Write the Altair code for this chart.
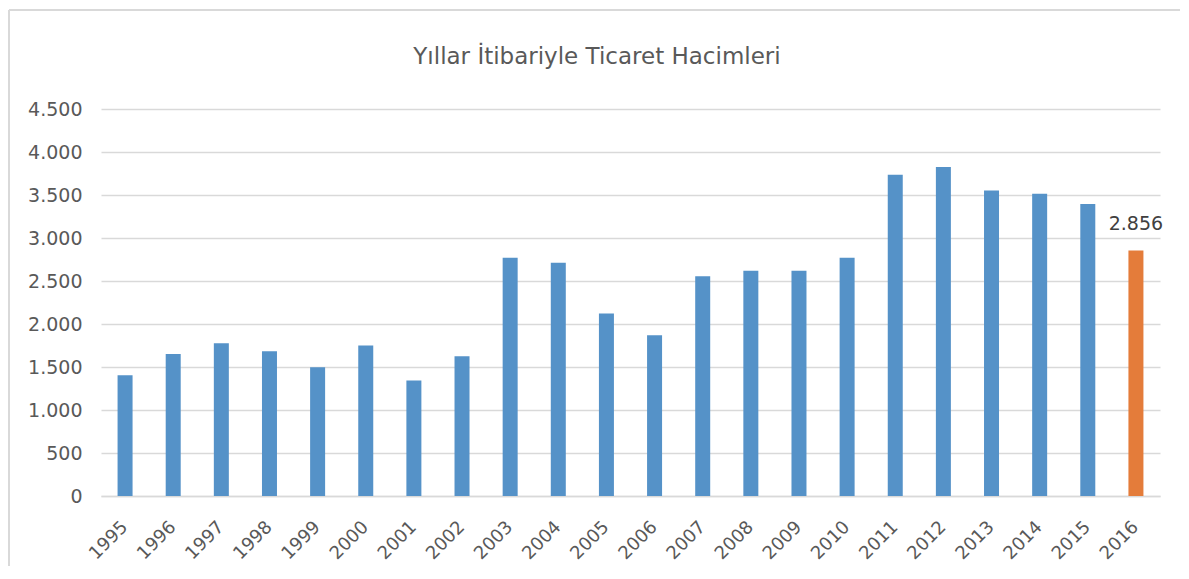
import altair as alt
import pandas as pd

years = [str(y) for y in range(1995, 2017)]
values = [1405, 1652, 1776, 1683, 1498, 1749, 1343, 1625, 2771, 2713,
          2121, 1869, 2554, 2620, 2620, 2771, 3735, 3827, 3553, 3514, 3394, 2856]
highlight = ["no"] * 21 + ["yes"]
label_years = ["2016"]
title_text = ["Yıllar İtibariyle Ticaret Hacimleri"]

df = pd.DataFrame({"year": years, "value": values, "hl": highlight})
FONT = "DejaVu Sans"

base = alt.Chart(df)

bars = base.mark_bar(size=15).encode(
    x=alt.X("year:O", sort=years, title=None,
            scale=alt.Scale(paddingInner=0, paddingOuter=0),
            axis=alt.Axis(labelAngle=-45, labelAlign="right", labelBaseline="middle",
                          labelFontSize=18, labelColor="#595959", labelFont=FONT,
                          ticks=False, domainColor="#d9d9d9", domainWidth=1.5,
                          labelPadding=28)),
    y=alt.Y("value:Q", title=None,
            scale=alt.Scale(domain=[0, 4500], nice=False),
            axis=alt.Axis(values=list(range(0, 5000, 500)),
                          labelExpr="replace(format(datum.value, ','), ',', '.')",
                          labelFontSize=19, labelColor="#595959", labelFont=FONT,
                          ticks=False, domain=False, gridColor="#d9d9d9", gridWidth=1.5,
                          labelPadding=19)),
    color=alt.Color("hl:N", scale=alt.Scale(domain=["no", "yes"], range=["#5592c8", "#e47c3a"]),
                    legend=None),
)

text = base.transform_filter(
    alt.FieldOneOfPredicate(field="year", oneOf=label_years)
).transform_calculate(
    lbl="replace(format(datum.value, ','), ',', '.')"
).mark_text(dy=-20, baseline="alphabetic", fontSize=19, color="#404040", font=FONT).encode(
    x=alt.X("year:O", sort=years),
    y="value:Q",
    text="lbl:N",
)

title = alt.Chart(pd.DataFrame({"t": title_text})).mark_text(
    fontSize=23, color="#595959", font=FONT, baseline="alphabetic", align="center"
).encode(x=alt.value(496), y=alt.value(-45), text="t:N")

frame_v = alt.Chart(df).mark_rule(color="#d9d9d9", strokeWidth=2).encode(
    x=alt.value(-92), y=alt.value(-99), y2=alt.value(480))
frame_h = alt.Chart(df).mark_rule(color="#d9d9d9", strokeWidth=2).encode(
    x=alt.value(-92), x2=alt.value(1200), y=alt.value(-99))

chart = (frame_v + frame_h + bars + text + title).properties(
    width=1059, height=387,
    autosize=alt.AutoSizeParams(type="none"),
    padding={"left": 93, "top": 101, "right": 20, "bottom": 70},
).configure_view(stroke=None)

chart.save("out.html", embed_options={"renderer": "svg", "actions": False})
